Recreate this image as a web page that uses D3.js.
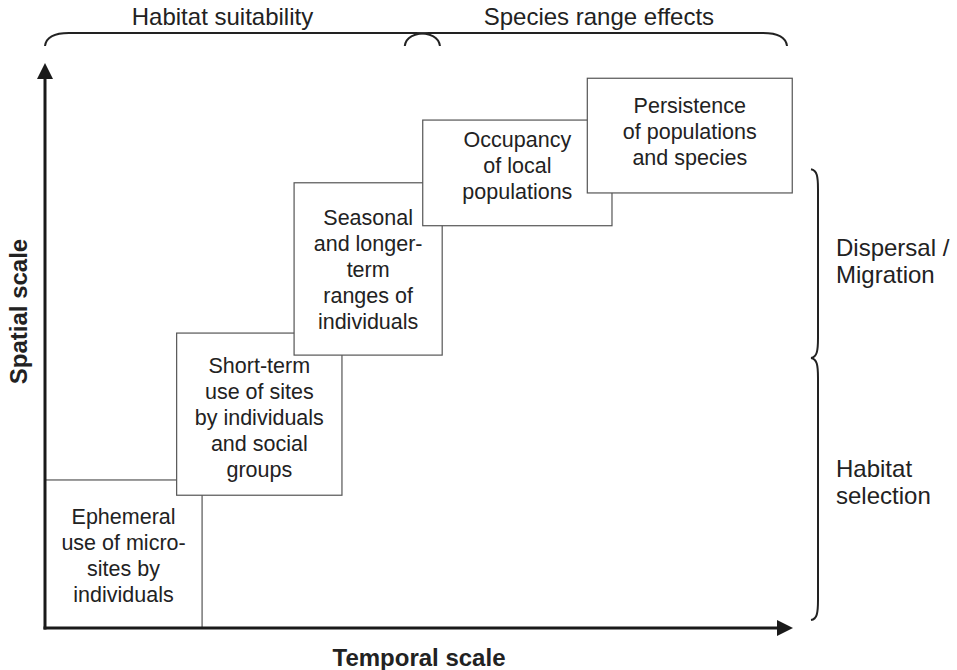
<!DOCTYPE html>
<html>
<head>
<meta charset="utf-8">
<script src="https://cdn.jsdelivr.net/npm/d3@7"></script>
<style>
  html, body { margin: 0; padding: 0; background: #fff; }
  svg { display: block; font-family: "Liberation Sans", Arial, sans-serif; }
</style>
</head>
<body>
<div id="chart"></div>
<script>
// boxes: extent along temporal (x) and spatial (y) scale, 0..100
const boxLabels = [
    ['Ephemeral', 'use of micro-', 'sites by', 'individuals'],
    ['Short-term', 'use of sites', 'by individuals', 'and social', 'groups'],
    ['Seasonal', 'and longer-', 'term', 'ranges of', 'individuals'],
    ['Occupancy', 'of local', 'populations'],
    ['Persistence', 'of populations', 'and species']
];
const boxX0 = [0, 17.6, 33.3, 50.5, 72.5];
const boxX1 = [21.0, 39.7, 53.1, 75.8, 99.9];
const boxY0 = [0, 23.5, 48.3, 71.2, 77.0];
const boxY1 = [26.2, 52.2, 78.8, 89.9, 97.3];

// braces above the plot (temporal extent)
const topBraceLabels = ['Habitat suitability', 'Species range effects'];
const topBraceFrom = [0, 48.1];
const topBraceTo = [52.8, 99.2];

// braces on the right (spatial extent)
const sideBraceLabels = [['Dispersal /', 'Migration'], ['Habitat', 'selection']];
const sideBraceFrom = [47.8, 1.4];
const sideBraceTo = [81.2, 47.8];

const xTitle = 'Temporal scale';
const yTitle = 'Spatial scale';

const width = 957, height = 670;
const textColor = '#222';

const x = d3.scaleLinear().domain([0, 100]).range([45, 793]);
const y = d3.scaleLinear().domain([0, 100]).range([628, 63]);

const svg = d3.select('#chart')
    .append('svg')
    .attr('width', width)
    .attr('height', height);

// boxes, later ones drawn on top of earlier ones
const boxes = boxLabels.map((lines, i) => ({
    lines, x0: boxX0[i], x1: boxX1[i], y0: boxY0[i], y1: boxY1[i]
}));

const lineGap = 26;
// the occupancy box text sits a little above the middle
const textShift = [1, 3, 1, -7, -4];

const g = svg.selectAll('.box')
    .data(boxes)
    .enter()
    .append('g')
    .attr('class', 'box');

g.append('rect')
    .attr('x', (d) => x(d.x0))
    .attr('y', (d) => y(d.y1))
    .attr('width', (d) => x(d.x1) - x(d.x0))
    .attr('height', (d) => y(d.y0) - y(d.y1))
    .attr('fill', '#fff')
    .attr('stroke', '#555')
    .attr('stroke-width', 1.2);

g.each(function (d, i) {
    const cx = (x(d.x0) + x(d.x1)) / 2;
    const cy = (y(d.y0) + y(d.y1)) / 2 + textShift[i];
    const top = cy - (d.lines.length - 1) * lineGap / 2;
    d3.select(this)
        .selectAll('text')
        .data(d.lines)
        .enter()
        .append('text')
        .attr('x', cx)
        .attr('y', (t, j) => top + j * lineGap)
        .attr('dy', '0.35em')
        .attr('text-anchor', 'middle')
        .attr('font-size', 21.5)
        .attr('fill', textColor)
        .text((t) => t);
});

// axes
const axisColor = '#1a1a1a';
svg.append('line')
    .attr('x1', x(0)).attr('y1', y(0) + 1.5)
    .attr('x2', x(0)).attr('y2', y(100) + 14)
    .attr('stroke', axisColor).attr('stroke-width', 3);
svg.append('line')
    .attr('x1', x(0) - 1.5).attr('y1', y(0))
    .attr('x2', x(100) - 14).attr('y2', y(0))
    .attr('stroke', axisColor).attr('stroke-width', 3);

svg.append('path')
    .attr('d', `M${x(0)},${y(100)} L${x(0) + 8},${y(100) + 16} L${x(0) - 8},${y(100) + 16} Z`)
    .attr('fill', axisColor);
svg.append('path')
    .attr('d', `M${x(100)},${y(0)} L${x(100) - 16},${y(0) - 8} L${x(100) - 16},${y(0) + 8} Z`)
    .attr('fill', axisColor);

// axis titles
svg.append('text')
    .attr('x', (x(0) + x(100)) / 2)
    .attr('y', 658)
    .attr('dy', '0.35em')
    .attr('text-anchor', 'middle')
    .attr('font-size', 24)
    .attr('font-weight', 'bold')
    .attr('fill', textColor)
    .text(xTitle);

svg.append('text')
    .attr('transform', `translate(19, ${(y(0) + y(100)) / 2 - 34}) rotate(-90)`)
    .attr('dy', '0.35em')
    .attr('text-anchor', 'middle')
    .attr('font-size', 24)
    .attr('font-weight', 'bold')
    .attr('fill', textColor)
    .text(yTitle);

// top braces
const braceColor = '#222';
const topLine = 33, topEnd = 46;
topBraceLabels.forEach((label, i) => {
    const a = x(topBraceFrom[i]), b = x(topBraceTo[i]);
    svg.append('path')
        .attr('d', `M${a},${topEnd} C${a + 1},${topLine + 5} ${a + 9},${topLine} ${a + 24},${topLine}`
            + ` L${b - 24},${topLine} C${b - 9},${topLine} ${b - 1},${topLine + 5} ${b},${topEnd}`)
        .attr('fill', 'none')
        .attr('stroke', braceColor)
        .attr('stroke-width', 2);
    svg.append('text')
        .attr('x', (a + b) / 2 + (i === 0 ? -20 : 3))
        .attr('y', 17)
        .attr('dy', '0.35em')
        .attr('text-anchor', 'middle')
        .attr('font-size', 24)
        .attr('fill', textColor)
        .text(label);
});

// right braces
const sideLine = 818, sideEnd = 811;
sideBraceLabels.forEach((lines, i) => {
    const a = y(sideBraceTo[i]), b = y(sideBraceFrom[i]);
    svg.append('path')
        .attr('d', `M${sideEnd},${a} C${sideEnd + 6},${a + 1} ${sideLine},${a + 7} ${sideLine},${a + 20}`
            + ` L${sideLine},${b - 20} C${sideLine},${b - 7} ${sideEnd + 6},${b - 1} ${sideEnd},${b}`)
        .attr('fill', 'none')
        .attr('stroke', braceColor)
        .attr('stroke-width', 2);
    const cy = (a + b) / 2 - (i === 0 ? 2 : 7);
    svg.append('g')
        .selectAll('text')
        .data(lines)
        .enter()
        .append('text')
        .attr('x', 836)
        .attr('y', (t, j) => cy + (j - (lines.length - 1) / 2) * 27)
        .attr('dy', '0.35em')
        .attr('font-size', 24)
        .attr('fill', textColor)
        .text((t) => t);
});
</script>
</body>
</html>
